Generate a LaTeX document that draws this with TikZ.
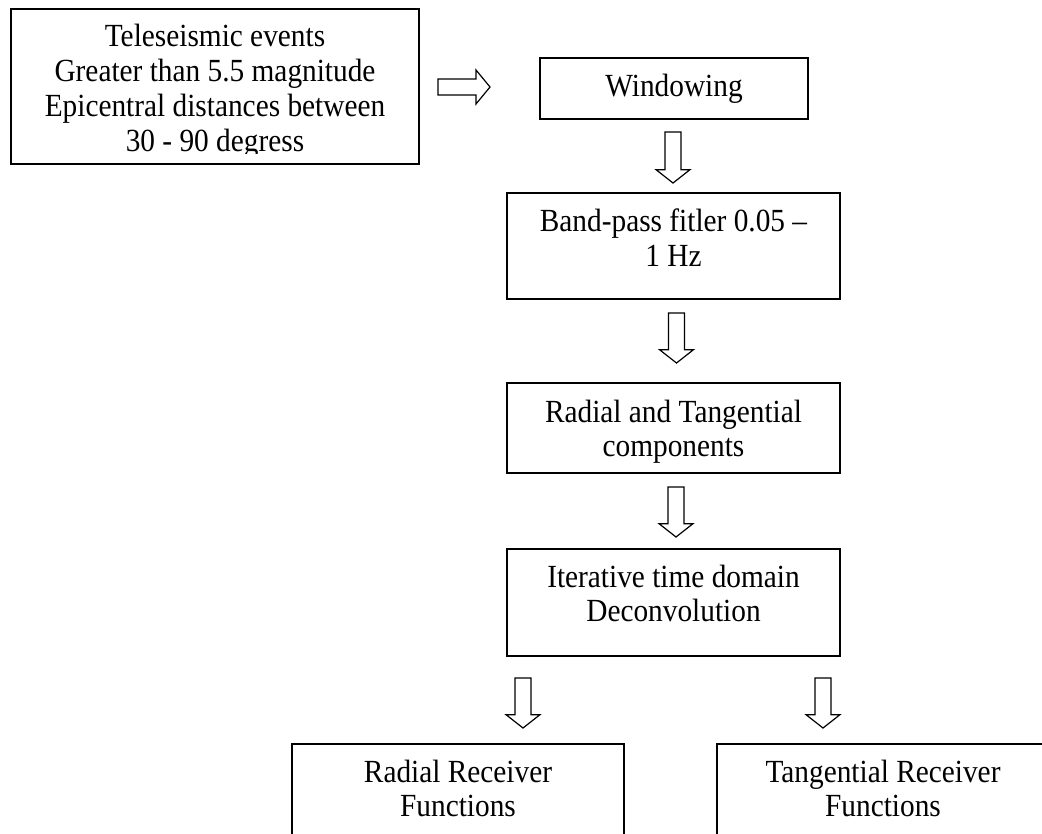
\documentclass[tikz,border=0pt]{standalone}
\usepackage{fontspec}
\setmainfont{Liberation Serif}
\usetikzlibrary{calc}
\tikzset{
  box/.style={draw=black, line width=1.2pt, rectangle, inner sep=0pt, outer sep=0pt, fill=none},
  txt/.style={inner sep=0pt, outer sep=0pt, anchor=base, font=\fontsize{22}{23.65}\selectfont, text=black},
  barrow/.style={draw=black, line width=0.9pt, line join=miter, fill=white}
}
\newcommand{\mltext}[1]{\scalebox{1}[1.1]{\begin{tabular}[t]{@{}c@{}}#1\end{tabular}}}
\newcommand{\varr}[2]{\draw[barrow] let \p1=#1, \p2=#2 in
  (\x1-6pt,\y1) -- (\x1+6pt,\y1) -- (\x1+6pt,\y2+10pt) -- (\x1+12.75pt,\y2+10pt) --
  (\x1,\y2) -- (\x1-12.75pt,\y2+10pt) -- (\x1-6pt,\y2+10pt) -- cycle;}
\newcommand{\harr}[2]{\draw[barrow] let \p1=#1, \p2=#2 in
  (\x1,\y1+6pt) -- (\x2-10.5pt,\y1+6pt) -- (\x2-10.5pt,\y1+12.75pt) -- (\x2,\y1) --
  (\x2-10.5pt,\y1-12.75pt) -- (\x2-10.5pt,\y1-6pt) -- (\x1,\y1-6pt) -- cycle;}
\begin{document}
\begin{tikzpicture}[x=0.75pt, y=-0.75pt]
\useasboundingbox (0,0) rectangle (1042,834);
\fill[white] (0,0) rectangle (1042,834);
\clip (0,0) rectangle (1042,834);

% boxes
\node[box, minimum width=0.75*408pt, minimum height=0.75*155pt] (ev) at (215,86.5) {};
\node[box, minimum width=0.75*268pt, minimum height=0.75*61pt] (win) at (674,88.5) {};
\node[box, minimum width=0.75*333pt, minimum height=0.75*106pt] (bp) at (673.5,246) {};
\node[box, minimum width=0.75*333pt, minimum height=0.75*90pt] (rt) at (673.5,428) {};
\node[box, minimum width=0.75*333pt, minimum height=0.75*107pt] (it) at (673.5,602.5) {};
\node[box, minimum width=0.75*332pt, minimum height=0.75*140pt] (rr) at (458,814) {};
\node[box, minimum width=0.75*332pt, minimum height=0.75*140pt] (tr) at (883,814) {};

% texts
\begin{scope}
\clip (ev.north west) rectangle ($(ev.south east)+(0,-10)$);
\node[txt] (evt) at (215,47) {\mltext{Teleseismic events\\Greater than 5.5 magnitude\\Epicentral distances between\\30 - 90 degress}};
\end{scope}
\node[txt] (wint) at (674,97) {\mltext{Windowing}};
\node[txt] (bpt) at (673.5,232) {\mltext{Band-pass fitler 0.05 \textendash\\1 Hz}};
\node[txt] (rtt) at (673.5,422) {\mltext{Radial and Tangential\\components}};
\node[txt] (itt) at (673.5,587) {\mltext{Iterative time domain\\Deconvolution}};
\node[txt] (rrt) at (458,782) {\mltext{Radial Receiver\\Functions}};
\node[txt] (trt) at (883,782) {\mltext{Tangential Receiver\\Functions}};

% block arrows
\harr{($(ev.east)+(19,0.5)$)}{($(win.west)+(-50,0)$)}
\varr{($(win.south)+(-1,13)$)}{($(bp.north)+(0,-10)$)}
\varr{($(bp.south)+(3,14)$)}{($(rt.north)+(0,-20)$)}
\varr{($(rt.south)+(2.5,14)$)}{($(it.north)+(0,-12)$)}
\varr{($(it.south)+(-150.5,22)$)}{($(rr.north)+(0,-16)$)}
\varr{($(it.south)+(149.5,22)$)}{($(tr.north)+(0,-16)$)}
\end{tikzpicture}
\end{document}
